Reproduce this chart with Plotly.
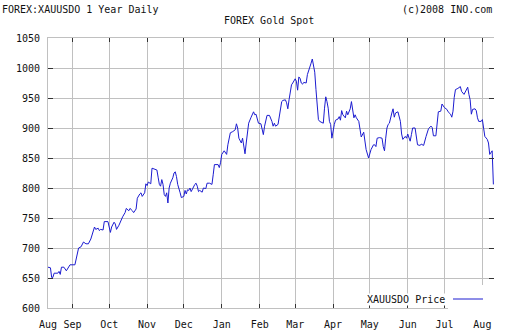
import plotly.graph_objects as go
import pandas as pd

# ---- data ----
start_date = "2007-08-12"
day = [0, 2, 3, 4, 5, 8, 9, 10, 11, 13, 15, 16, 18, 22, 23, 24, 25, 27, 29, 31, 33, 35, 36, 38, 39, 41, 42, 43, 45,
       46, 49, 50, 51, 52, 54, 55, 56, 58, 60, 61, 63, 64, 66, 67, 69, 70, 72, 73, 75, 76, 77, 79, 80, 81, 82, 84,
       85, 88, 89, 90,
       91, 92, 93, 94, 95, 96, 97, 98, 99, 100, 102, 103, 104, 105, 106, 108, 109, 111, 112, 113, 114, 115, 116,
       117, 119, 120, 121, 122, 123, 124, 126, 127, 129, 130, 132, 134, 135, 136, 139, 140, 141, 142, 144, 145,
       146, 147, 148, 149, 151, 153, 154, 155, 156, 157, 158, 159, 160, 161, 162, 163, 164, 166, 168, 169, 170,
       172, 174, 176, 177,
       179, 181, 183, 184, 185, 186, 188, 190, 191, 192, 194, 195, 196, 197, 198, 199, 200, 202, 203, 204, 205,
       206, 207, 208, 209, 211, 212, 214, 215, 216, 217, 218, 219, 220, 221, 222, 224, 225, 226, 227, 228, 229,
       230, 231, 232, 233, 234, 235, 237, 238, 239, 240, 241, 243, 244, 245, 247, 248, 249, 250, 251, 252, 254,
       255, 256, 258, 259, 260, 262, 263, 264, 266,
       267, 268, 269, 271, 273, 274, 275, 276, 277, 278, 279, 281, 282, 283, 284, 286, 288, 289, 290, 292, 293,
       294, 296, 297, 298, 300, 301, 302, 304, 305, 307, 308, 309, 311, 313, 314, 315, 317, 318, 319, 321, 322,
       324, 326, 327, 329, 330, 331, 332, 333, 335, 337, 338, 340, 341, 343, 344, 345, 346, 347, 349, 350, 351,
       352, 354, 355, 356, 357, 359, 360, 361, 362, 363, 364]
price = [668, 667, 651, 651, 658, 658, 661, 656, 668, 668, 662, 665, 672, 672, 682, 690, 700, 702, 710, 707, 707,
         715, 723, 735, 731, 733, 729, 731, 730, 744, 744, 735, 726, 735, 743, 740, 731, 738, 748, 752, 759, 766,
         762, 766, 762, 759, 765, 783, 790, 792, 786, 792, 807, 804, 810, 807, 833, 831, 830, 818,
         806, 803, 814, 806, 789, 786, 792, 775, 800, 808, 817, 825, 827, 819, 806, 792, 784, 786, 796, 790, 797,
         796, 800, 794, 803, 806, 808, 803, 794, 796, 793, 800, 799, 808, 808, 806, 822, 839, 839, 834, 842, 856,
         862, 858, 856, 872, 884, 892, 894, 897, 907, 900, 883, 879, 875, 883, 872, 857, 875, 892, 908, 918, 927,
         922, 923, 908, 907, 889, 903,
         921, 921, 911, 903, 908, 903, 906, 928, 944, 946, 947, 942, 932, 947, 964, 972, 975, 982, 978, 963, 985,
         983, 975, 973, 976, 975, 989, 1000, 1008, 1015, 1003, 993, 964, 936, 914, 911, 909, 908, 933, 952, 944,
         933, 911, 906, 883, 897, 906, 913, 915, 919, 913, 929, 922, 917, 928, 922, 932, 944, 931, 917, 922, 917,
         911, 894, 885, 893, 881, 864, 850, 857, 864, 872,
         872, 869, 883, 884, 883, 869, 862, 883, 900, 906, 908, 925, 932, 918, 925, 927, 911, 890, 881, 886, 883,
         890, 878, 889, 900, 900, 886, 872, 871, 873, 871, 877, 886, 899, 903, 901, 887, 887, 903, 927, 928, 940,
         934, 931, 927, 923, 918, 928, 951, 964, 966, 969, 961, 956, 960, 968, 956, 947, 923, 931, 932, 929, 917,
         911, 911, 914, 900, 886, 881, 875, 856, 860, 862, 806]
tick_dates = ["2007-08-12", "2007-09-01", "2007-10-01", "2007-11-01", "2007-12-01", "2008-01-01",
              "2008-02-01", "2008-03-01", "2008-04-01", "2008-05-01", "2008-06-01", "2008-07-01",
              "2008-08-01"]
tick_text = ["Aug", "Sep", "Oct", "Nov", "Dec", "Jan", "Feb", "Mar", "Apr", "May", "Jun", "Jul", "Aug"]
y_min, y_max, y_step = 600, 1050, 50
series_name = "XAUUSDO Price"

# ---- layout constants ----
W, H = 512, 336
L, R, T, B = 48, 18, 38, 28
PW, PH = W - L - R, H - T - B
FONT = "DejaVu Sans Mono"
TXT = "#111111"
GRID = "#c0c0c0"
TICK = "#333333"


def px_x(p):
    return (p - L) / PW


def px_y(p):
    return (H - B - p) / PH


t0 = pd.Timestamp(start_date)
dates = t0 + pd.to_timedelta(day, unit="D")
x_end = t0 + pd.Timedelta(days=364.5)

fig = go.Figure()
fig.add_trace(go.Scatter(x=dates, y=price, mode="lines", name=" ",
                         line=dict(color="#1c1cd0", width=1), showlegend=True,
                         hoverinfo="skip"))
fig.add_trace(go.Scatter(x=[], y=[], yaxis="y2", showlegend=False))

fig.update_layout(
    width=W, height=H,
    margin=dict(l=L, r=R, t=T, b=B, pad=0, autoexpand=False),
    paper_bgcolor="white", plot_bgcolor="white",
    font=dict(family=FONT, size=10, color=TXT),
    xaxis=dict(type="date", range=[t0, x_end], tickmode="array", tickvals=tick_dates,
               ticktext=tick_text, ticks="inside", ticklen=4, tickwidth=1, tickcolor=TICK,
               showgrid=True, gridcolor=GRID, gridwidth=1, showline=True, linecolor=GRID,
               linewidth=1, mirror="ticks", zeroline=False, ticklabelstandoff=7,
               automargin=False,
               tickfont=dict(family=FONT, size=10, color=TXT)),
    yaxis=dict(range=[y_min, y_max], tickmode="linear", tick0=y_min, dtick=y_step,
               ticks="inside", ticklen=5, tickwidth=1, tickcolor=TICK,
               showgrid=True, gridcolor=GRID, gridwidth=1, showline=True, linecolor=GRID,
               linewidth=1, mirror=False, zeroline=False, ticklabelstandoff=5,
               automargin=False,
               tickfont=dict(family=FONT, size=10, color=TXT)),
    yaxis2=dict(range=[y_min, y_max], tickmode="linear", tick0=y_min, dtick=y_step,
                overlaying="y", side="right", anchor="x", ticks="inside", ticklen=5,
                tickwidth=1, tickcolor=TICK, showticklabels=False, showgrid=False,
                showline=False, zeroline=False, automargin=False),
    showlegend=True,
    legend=dict(x=px_x(448), y=px_y(299), xanchor="left", yanchor="middle",
                bgcolor="white", borderwidth=0, itemwidth=30,
                font=dict(family=FONT, size=10, color=TXT)),
    annotations=[
        dict(text="FOREX:XAUUSDO 1 Year Daily", xref="paper", yref="paper",
             x=px_x(0), y=px_y(9), xanchor="left", yanchor="middle", showarrow=False),
        dict(text="(c)2008 INO.com", xref="paper", yref="paper",
             x=px_x(494), y=px_y(9), xanchor="right", yanchor="middle", showarrow=False),
        dict(text="FOREX Gold Spot", xref="paper", yref="paper",
             x=px_x(269), y=px_y(20), xanchor="center", yanchor="middle", showarrow=False),
        dict(text=series_name, xref="paper", yref="paper", x=px_x(366), y=px_y(299),
             xanchor="left", yanchor="middle", showarrow=False, bgcolor="white",
             width=82, align="left", borderpad=0),
    ],
)

fig.write_html("out.html")
